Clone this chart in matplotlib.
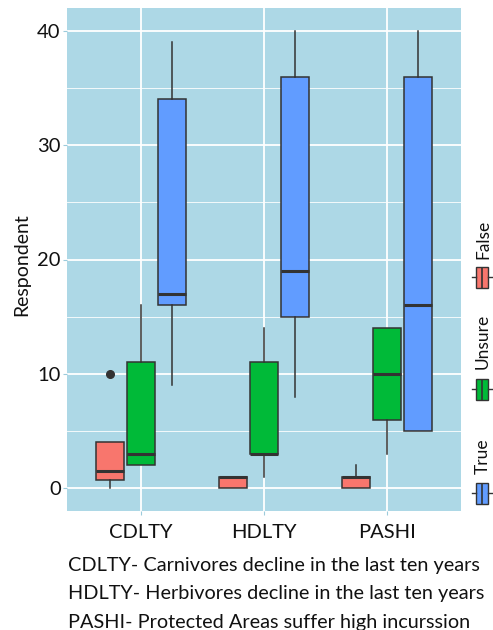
import numpy as np
import matplotlib
matplotlib.use('Agg')
import matplotlib.pyplot as plt

plt.rcParams['font.family'] = ['Lato', 'DejaVu Sans']

# data
categories = ['CDLTY', 'HDLTY', 'PASHI']
responses = ['False', 'Unsure', 'True']
colors = ['#F8766D', '#00BA38', '#619CFF']

# [CDLTY, HDLTY, PASHI] for each response
false_whislo = [0, 0, 0]
false_q1 = [0.75, 0, 0]
false_med = [1.5, 1, 1]
false_q3 = [4, 1, 1]
false_whishi = [4, 1, 2]
false_fliers = [[10], [], []]

unsure_whislo = [2, 1, 3]
unsure_q1 = [2, 3, 6]
unsure_med = [3, 3, 10]
unsure_q3 = [11, 11, 14]
unsure_whishi = [16, 14, 14]
unsure_fliers = [[], [], []]

true_whislo = [9, 8, 5]
true_q1 = [16, 15, 5]
true_med = [17, 19, 16]
true_q3 = [34, 36, 36]
true_whishi = [39, 40, 40]
true_fliers = [[], [], []]

caption = ['CDLTY- Carnivores decline in the last ten years',
           'HDLTY- Herbivores decline in the last ten years',
           'PASHI- Protected Areas suffer high incurssion']

series = [
    (false_whislo, false_q1, false_med, false_q3, false_whishi, false_fliers),
    (unsure_whislo, unsure_q1, unsure_med, unsure_q3, unsure_whishi, unsure_fliers),
    (true_whislo, true_q1, true_med, true_q3, true_whishi, true_fliers),
]

W, H = 493, 630
fig = plt.figure(figsize=(W / 100, H / 100), dpi=100)
fig.patch.set_facecolor('white')
ax = fig.add_axes([67 / W, 1 - 511 / H, 394 / W, 503 / H])
ax.set_facecolor('#ADD8E6')

x = np.arange(1, len(categories) + 1)
offsets = [-0.25, 0, 0.25]
edge = '#333333'

for (wl, q1, md, q3, wh, fl), off, col in zip(series, offsets, colors):
    stats = [dict(whislo=a, q1=b, med=c, q3=d, whishi=e, fliers=f)
             for a, b, c, d, e, f in zip(wl, q1, md, q3, wh, fl)]
    ax.bxp(stats, positions=x + off, widths=0.225, patch_artist=True,
           showcaps=False, manage_ticks=False,
           boxprops=dict(facecolor=col, edgecolor=edge, linewidth=1.1),
           medianprops=dict(color=edge, linewidth=2.2),
           whiskerprops=dict(color=edge, linewidth=1.1),
           flierprops=dict(marker='o', markerfacecolor=edge, markeredgecolor=edge,
                           markersize=5.5))

ax.set_xlim(0.4, 3.6)
ax.set_ylim(-2, 42)
ax.set_xticks(x)
ax.set_xticklabels(categories)
ax.set_yticks([0, 10, 20, 30, 40])
ax.set_yticks([5, 15, 25, 35], minor=True)
ax.grid(True, which='major', color='white', linewidth=1.3)
ax.grid(True, which='minor', axis='y', color='white', linewidth=0.6)
ax.set_axisbelow(True)
for s in ax.spines.values():
    s.set_visible(False)
ax.tick_params(axis='both', which='major', length=3, color='#9ccbdb',
               labelsize=14.5, labelcolor='#111111')
ax.tick_params(axis='x', pad=6)
ax.tick_params(axis='y', pad=1.5)
ax.tick_params(which='minor', length=0)
ax.set_ylabel('Respondent', fontsize=14, color='#111111')
ax.yaxis.set_label_coords((22 - 67) / 394, 0.49)
ax.yaxis.label.set_verticalalignment('center')

# legend: horizontal box glyphs with rotated labels
lax = fig.add_axes([0, 0, 1, 1], facecolor='none')
lax.set_xlim(0, W)
lax.set_ylim(H, 0)
lax.axis('off')
key_y = [277, 389, 493]
label_bottom = [259, 369, 474]
for name, col, ky, lb in zip(responses, colors, key_y, label_bottom):
    lax.bxp([dict(whislo=472, q1=476, med=482, q3=488, whishi=492, fliers=[])],
            positions=[ky], widths=21, orientation='horizontal', patch_artist=True,
            showcaps=False, manage_ticks=False,
            boxprops=dict(facecolor=col, edgecolor=edge, linewidth=1.0),
            medianprops=dict(color=edge, linewidth=1.2),
            whiskerprops=dict(color=edge, linewidth=1.0))
    lax.text(483, lb, name, rotation=90, ha='center', va='bottom',
             fontsize=12.5, color='#111111')

for i, line in enumerate(caption):
    fig.text(68 / W, 1 - (571 + i * 28.5) / H, line, ha='left', va='baseline',
             fontsize=14.3, color='#111111')

fig.savefig('out.png', dpi=100)
